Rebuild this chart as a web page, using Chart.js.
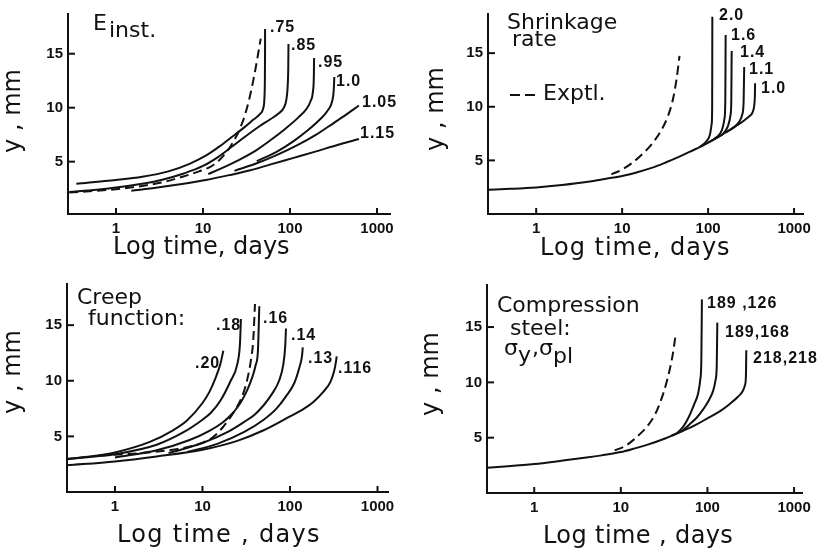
<!doctype html>
<html lang="en">
<head>
<meta charset="utf-8">
<title>Deflection against log time, four parameter studies</title>
<script src="https://cdn.jsdelivr.net/npm/chart.js@4.4.1/dist/chart.umd.min.js"></script>
<style>
  body { margin: 0; background: #fff; }
  .panel { position: absolute; }
</style>
</head>
<body>
<canvas class="panel" id="c1" width="408" height="270" style="left:0;top:0"></canvas>
<canvas class="panel" id="c2" width="409" height="270" style="left:408px;top:0"></canvas>
<canvas class="panel" id="c3" width="408" height="282" style="left:0;top:270px"></canvas>
<canvas class="panel" id="c4" width="409" height="282" style="left:408px;top:270px"></canvas>

<script>
// tick values shared by all four panels
const xTicks = [1, 10, 100, 1000];
const yTicks = [5, 10, 15];

// --- panel 1: E inst. --- [time (days), deflection y (mm)]
const e1Exptl = [[0.29,2.15],[0.6,2.3],[1,2.45],[2,2.75],[3.5,3.1],[5.5,3.55],[9,4.1],[12,4.5],[15,5.05],[18,5.75],[21,6.5],[24,7.3],[27,8.2],[30,9.2],[34,10.8],[38,12.6],[42,14.5],[46,16.4]];
const e075 = [[0.35,2.95],[1,3.3],[2,3.6],[4,4.1],[7,4.8],[11,5.6],[16,6.5],[22,7.35],[30,8.2],[38,8.9],[45,9.4],[49,9.9],[50.8,10.9],[51.4,12.5],[51.6,14.5],[51.7,17.3]];
const e085 = [[0.29,2.2],[0.6,2.4],[1,2.6],[2,2.95],[3.5,3.35],[6,3.9],[10,4.6],[15,5.45],[22,6.45],[32,7.45],[45,8.3],[60,8.95],[75,9.5],[85,10.0],[91,10.8],[94,12],[95.5,13.8],[96,15.9]];
const e095 = [[11.5,3.85],[16,4.35],[25,5.1],[40,6.0],[60,7.0],[90,8.1],[125,9.1],[155,9.9],[172,10.6],[184,11.6],[188,13],[189,14.6]];
const e100 = [[41.5,5.05],[70,5.9],[110,6.9],[160,7.9],[220,8.9],[275,9.8],[305,10.6],[318,11.6],[323,12.85]];
const e105 = [[23,4.15],[40,4.8],[70,5.6],[120,6.5],[200,7.5],[320,8.6],[450,9.4],[620,10.2]];
const e115 = [[1.5,2.3],[3,2.6],[6,2.95],[10.8,3.3],[20,3.75],[35,4.2],[60,4.75],[110,5.35],[200,5.95],[350,6.55],[620,7.1]];

// --- panel 2: shrinkage rate ---
const s2Exptl = [[7.5,3.7],[10,4.15],[13,4.75],[17,5.55],[22,6.5],[28,7.7],[34,9.1],[39,10.7],[43,12.6],[46.5,14.75]];
const s100 = [[0.275,2.27],[0.5,2.35],[1,2.48],[2,2.7],[4,3.0],[6,3.25],[10,3.55],[15,3.9],[22,4.3],[32,4.8],[45,5.3],[65,5.9],[90,6.45],[120,7.0],[160,7.6],[210,8.2],[260,8.7],[300,9.1],[330,9.5],[345,10.2],[350,11],[352,12.2]];
const s110 = [[160,7.6],[200,8.1],[230,8.6],[250,9.3],[259,10.5],[263,13.7]];
const s140 = [[120,7.0],[150,7.5],[170,8.2],[182,9.2],[186,10.5],[188,15.2]];
const s160 = [[100,6.65],[125,7.15],[145,7.85],[155,8.9],[158.5,10.5],[160,16.7]];
const s200 = [[80,6.25],[95,6.75],[105,7.4],[110,8.4],[111.5,10],[112,18.4]];

// --- panel 3: creep function ---
const c3Exptl = [[0.67,3.3],[2,3.5],[5,3.85],[9,4.3],[13,4.9],[17,5.8],[22,7.0],[27,8.2],[30.5,9.3],[33.5,10.6],[36,12.0],[38,13.6],[39.8,16.9]];
const c20 = [[0.283,2.95],[0.6,3.25],[1,3.55],[2.5,4.5],[4.5,5.5],[6.6,6.4],[10,8.0],[12,9.0],[14,10.2],[16,11.5],[17.3,12.7]];
const c18 = [[0.283,3.0],[0.6,3.2],[1,3.4],[3,4.25],[6,5.35],[10,6.5],[12.4,7.1],[16,8.2],[21,10.0],[25,11.5],[26.8,13.3],[27.5,15.55]];
const c16 = [[1,3.1],[3,3.75],[7,4.65],[12,5.5],[17,6.25],[21,6.9],[25,7.6],[29,8.4],[33,9.3],[37,10.3],[40.5,11.4],[43,12.7],[44.6,16.7]];
const c14 = [[4.1,3.5],[10,4.4],[20,5.45],[30,6.3],[40,7.0],[50,7.8],[62,8.8],[75,10.0],[84,11.5],[88,13],[90,14.7]];
const c13 = [[6.7,3.6],[15,4.35],[30,5.4],[50,6.5],[70,7.5],[90,8.6],[112,9.8],[128,11.2],[137,12.2],[140,13.0]];
const c116 = [[0.283,2.4],[1,2.75],[3,3.2],[10,3.8],[25,4.6],[50,5.55],[100,6.8],[145,7.5],[185,8.1],[240,9.0],[290,9.9],[320,10.9],[335,11.7],[342,12.2]];

// --- panel 4: compression steel ---
const k4Exptl = [[8.5,3.86],[11,4.2],[14,4.8],[17.5,5.5],[21,6.2],[25,7.15],[28.5,8.2],[31.5,9.2],[34.5,10.3],[37.5,11.5],[40.5,12.9],[42.8,14.25]];
const k218 = [[0.285,2.29],[0.5,2.42],[1,2.62],[2,2.9],[4,3.2],[6,3.4],[10,3.7],[14,4.0],[20,4.35],[33,4.95],[50,5.55],[75,6.2],[100,6.75],[140,7.4],[181,8.05],[225,8.7],[255,9.2],[270,9.7],[278,10.5],[281,12.9]];
const k168 = [[50,5.55],[62,6.2],[75,6.8],[90,7.6],[105,8.45],[117,9.3],[124,10.2],[128,11.5],[130,15.4]];
const k126 = [[38,5.15],[45,5.45],[52,5.95],[58,6.55],[64,7.25],[71,8.1],[78,9.0],[82.5,10.2],[85,12],[86.3,17.5]];

const INK = '#111';
const TITLE_FONT = '22px "DejaVu Sans"';
const AXIS_FONT = '24px "DejaVu Sans"';
const CURVE_FONT = 'bold 16px "Liberation Sans"';
const TICK_FONT = { family: 'Liberation Sans', size: 15, weight: 'bold' };

// small inward tick marks on both axes
const inwardTicks = {
  id: 'inwardTicks',
  afterDraw(chart) {
    const { ctx, chartArea, scales } = chart;
    ctx.save();
    ctx.strokeStyle = INK;
    ctx.lineWidth = 2;
    scales.x.ticks.forEach(t => {
      const px = scales.x.getPixelForValue(t.value);
      ctx.beginPath(); ctx.moveTo(px, chartArea.bottom); ctx.lineTo(px, chartArea.bottom - 6); ctx.stroke();
    });
    scales.y.ticks.forEach(t => {
      const py = scales.y.getPixelForValue(t.value);
      ctx.beginPath(); ctx.moveTo(chartArea.left, py); ctx.lineTo(chartArea.left + 7, py); ctx.stroke();
    });
    ctx.restore();
  }
};

// free text: panel names, curve labels, axis titles (page coordinates)
function notes(items, ox, oy) {
  return {
    id: 'notes',
    afterDraw(chart) {
      const ctx = chart.ctx;
      ctx.save();
      ctx.fillStyle = INK;
      ctx.strokeStyle = INK;
      for (const n of items) {
        const x = n.x - ox, y = n.y - oy;
        if (n.dashTo) {
          ctx.lineWidth = 2;
          ctx.setLineDash([10, 5]);
          ctx.beginPath(); ctx.moveTo(x, y); ctx.lineTo(n.dashTo - ox, y); ctx.stroke();
          ctx.setLineDash([]);
          continue;
        }
        ctx.font = n.font || CURVE_FONT;
        ctx.letterSpacing = n.ls || '0px';
        if (n.rot) {
          ctx.save();
          ctx.translate(x, y);
          ctx.rotate(-Math.PI / 2);
          ctx.textAlign = 'center';
          ctx.fillText(n.text, 0, 0);
          ctx.restore();
        } else {
          ctx.textAlign = 'left';
          ctx.fillText(n.text, x, y);
        }
      }
      ctx.restore();
    }
  };
}

function line(pts, dashed) {
  return {
    data: pts.map(p => ({ x: p[0], y: p[1] })),
    borderColor: INK,
    borderWidth: 2,
    borderDash: dashed ? [9, 5] : [],
    pointRadius: 0,
    fill: false,
    cubicInterpolationMode: 'monotone'
  };
}

function makePanel(id, ox, oy, area, xMin, xMax, yMin, yMax, series, texts) {
  const canvas = document.getElementById(id);
  const W = canvas.width, H = canvas.height;
  new Chart(canvas, {
    type: 'line',
    data: { datasets: series },
    options: {
      responsive: false,
      animation: false,
      layout: { padding: { left: 0, top: area.top - oy, right: ox + W - area.right, bottom: 0 } },
      plugins: { legend: { display: false }, tooltip: { enabled: false } },
      scales: {
        x: {
          type: 'logarithmic',
          min: xMin, max: xMax,
          afterBuildTicks: s => { s.ticks = xTicks.map(v => ({ value: v })); },
          afterFit: s => { s.height = oy + H - area.bottom; },
          ticks: { callback: v => String(v), font: TICK_FONT, color: INK, padding: 6, maxRotation: 0, autoSkip: false },
          grid: { display: true, drawOnChartArea: false, drawTicks: false },
          border: { display: true, color: INK, width: 2 }
        },
        y: {
          type: 'linear',
          min: yMin, max: yMax,
          afterBuildTicks: s => { s.ticks = yTicks.map(v => ({ value: v })); },
          afterFit: s => { s.width = area.left - ox; },
          ticks: { font: TICK_FONT, color: INK, padding: 5 },
          grid: { display: true, drawOnChartArea: false, drawTicks: false },
          border: { display: true, color: INK, width: 2 }
        }
      }
    },
    plugins: [inwardTicks, notes(texts, ox, oy)]
  });
}

makePanel('c1', 0, 0, { left: 68, top: 7, right: 390, bottom: 214 }, 0.2807, 1410, 0.15, 18.68,
  [line(e1Exptl, true), line(e075), line(e085), line(e095), line(e100), line(e105), line(e115)],
  [
    { text: 'E', x: 93, y: 30, font: TITLE_FONT },
    { text: 'inst.', x: 109, y: 37, font: TITLE_FONT },
    { text: '.75', x: 270, y: 32, ls: '1px' },
    { text: '.85', x: 291, y: 50, ls: '1px' },
    { text: '.95', x: 318, y: 67, ls: '1px' },
    { text: '1.0', x: 336, y: 86, ls: '1px' },
    { text: '1.05', x: 362, y: 107, ls: '1px' },
    { text: '1.15', x: 360, y: 138, ls: '1px' },
    { text: 'y , mm', x: 20, y: 111, rot: true, font: AXIS_FONT },
    { text: 'Log time, days', x: 113, y: 254, font: AXIS_FONT }
  ]);

makePanel('c2', 408, 0, { left: 488, top: 7, right: 808, bottom: 214 }, 0.275, 1271, 0, 18.65,
  [line(s2Exptl, true), line(s100), line(s110), line(s140), line(s160), line(s200)],
  [
    { text: 'Shrinkage', x: 507, y: 29, font: TITLE_FONT },
    { text: 'rate', x: 512, y: 46, font: TITLE_FONT },
    { x: 510, y: 95, dashTo: 538 },
    { text: 'Exptl.', x: 543, y: 100, font: TITLE_FONT },
    { text: '2.0', x: 719, y: 20, ls: '1px' },
    { text: '1.6', x: 731, y: 40, ls: '1px' },
    { text: '1.4', x: 740, y: 57, ls: '1px' },
    { text: '1.1', x: 749, y: 74, ls: '1px' },
    { text: '1.0', x: 761, y: 93, ls: '1px' },
    { text: 'y , mm', x: 443, y: 109, rot: true, font: AXIS_FONT },
    { text: 'Log time, days', x: 540, y: 255, font: AXIS_FONT, ls: '1px' }
  ]);

makePanel('c3', 0, 270, { left: 67, top: 283, right: 388, bottom: 492 }, 0.283, 1318, 0, 18.7,
  [line(c3Exptl, true), line(c20), line(c18), line(c16), line(c14), line(c13), line(c116)],
  [
    { text: 'Creep', x: 77, y: 304, font: TITLE_FONT },
    { text: 'function:', x: 88, y: 325, font: TITLE_FONT },
    { text: '.20', x: 195, y: 368, ls: '1px' },
    { text: '.18', x: 216, y: 330, ls: '1px' },
    { text: '.16', x: 263, y: 323, ls: '1px' },
    { text: '.14', x: 291, y: 340, ls: '1px' },
    { text: '.13', x: 308, y: 363, ls: '1px' },
    { text: '.116', x: 338, y: 373, ls: '1px' },
    { text: 'y , mm', x: 20, y: 372, rot: true, font: AXIS_FONT },
    { text: 'Log time , days', x: 117, y: 542, font: AXIS_FONT, ls: '1.3px' }
  ]);

makePanel('c4', 408, 270, { left: 487, top: 285, right: 808, bottom: 493 }, 0.285, 1266, 0, 18.8,
  [line(k4Exptl, true), line(k218), line(k168), line(k126)],
  [
    { text: 'Compression', x: 497, y: 312, font: TITLE_FONT },
    { text: 'steel:', x: 510, y: 335, font: TITLE_FONT },
    { text: 'σ', x: 504, y: 355, font: TITLE_FONT },
    { text: 'y', x: 518, y: 362, font: TITLE_FONT },
    { text: ',', x: 532, y: 355, font: TITLE_FONT },
    { text: 'σ', x: 539, y: 355, font: TITLE_FONT },
    { text: 'pl', x: 553, y: 363, font: TITLE_FONT },
    { text: '189 ,126', x: 707, y: 308, ls: '1px' },
    { text: '189,168', x: 725, y: 337, ls: '1px' },
    { text: '218,218', x: 753, y: 363, ls: '1px' },
    { text: 'y , mm', x: 438, y: 374, rot: true, font: AXIS_FONT },
    { text: 'Log time , days', x: 543, y: 543, font: AXIS_FONT, ls: '0.4px' }
  ]);
</script>
</body>
</html>
